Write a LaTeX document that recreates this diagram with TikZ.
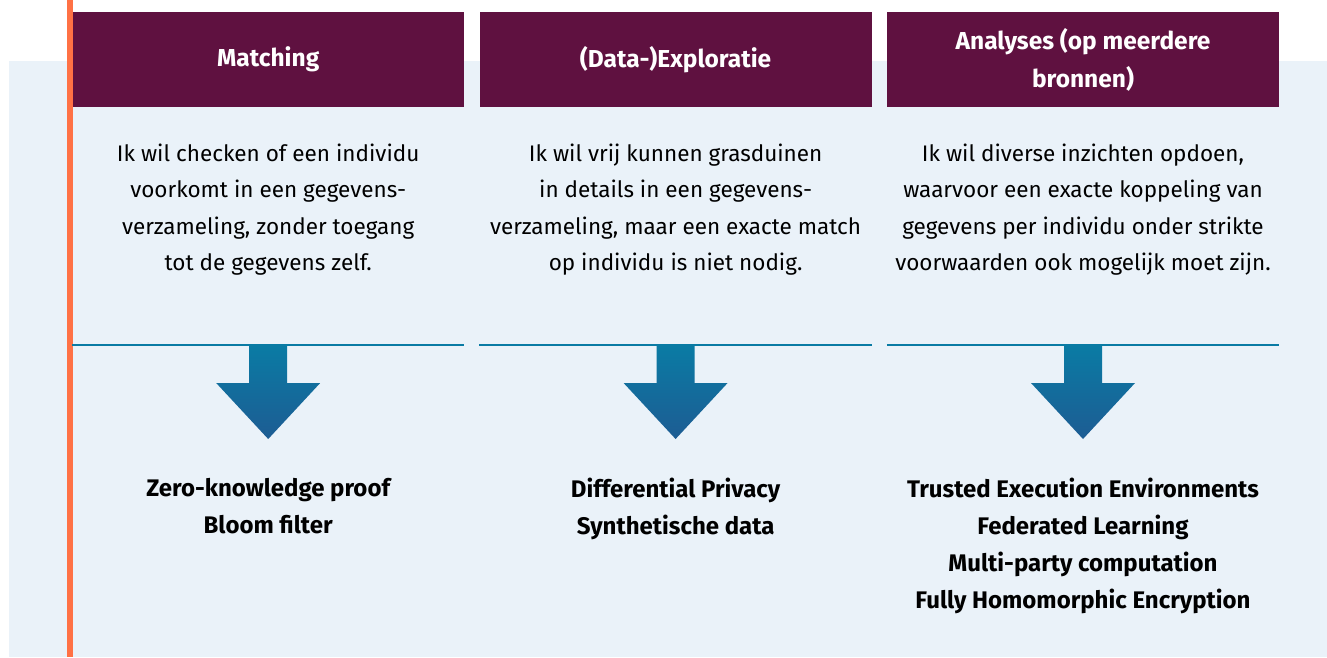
\documentclass[tikz,border=0pt]{standalone}
\usepackage{fontspec}
\setmainfont{Fira Sans}
\usetikzlibrary{positioning}
\definecolor{paleblue}{HTML}{EAF2F9}
\definecolor{plum}{HTML}{5F1140}
\definecolor{coral}{HTML}{FF7145}
\definecolor{seablue}{HTML}{0A7BA4}
\definecolor{deepblue}{HTML}{1D5C93}
\begin{document}
\begin{tikzpicture}[x=1pt, y=-1pt,
    header/.style={fill=plum, text=white, font=\bfseries\fontsize{24.5}{38}\selectfont,
        minimum width=392pt, minimum height=95pt, inner sep=0pt, align=center, anchor=north west},
    body/.style={font=\fontsize{22.5}{36.5}\selectfont, align=center, inner sep=0pt, anchor=north},
    result/.style={font=\bfseries\fontsize{24}{37}\selectfont, align=center, inner sep=0pt, anchor=north},
    sepline/.style={draw=seablue, line width=2pt},
    bigarrow/.style={top color=seablue, bottom color=deepblue, draw=none}]
    \useasboundingbox (0,0) rectangle (1327,657);
    % background
    \fill[paleblue] (9,61) rectangle (1327,657);
    % headers
    \node[header] (hmatch) at (72,12) {Matching};
    \node[header, right=15pt of hmatch] (hexpl) {(Data-)Exploratie};
    \node[header, right=15pt of hexpl] (hanal) {Analyses (op meerdere\\bronnen)};
    % side bar
    \draw[coral, line width=6pt] (70,0) -- (70,657);
    % questions
    \node[body, below=36pt of hmatch] (qmatch) {Ik wil checken of een individu\\voorkomt in een gegevens-\\verzameling, zonder toegang\\tot de gegevens zelf.};
    \node[body, below=36pt of hexpl] (qexpl) {Ik wil vrij kunnen grasduinen\\in details in een gegevens-\\verzameling, maar een exacte match\\op individu is niet nodig.};
    \node[body, below=36pt of hanal] (qanal) {Ik wil diverse inzichten opdoen,\\waarvoor een exacte koppeling van\\gegevens per individu onder strikte\\voorwaarden ook mogelijk moet zijn.};
    % separators and arrows
    \foreach \h in {hmatch, hexpl, hanal} {
        \draw[sepline] (\h.west |- 0,345) -- (\h.east |- 0,345);
        \coordinate (\h top) at (\h.south |- 0,346);
        \shade[bigarrow] ([xshift=-19pt]\h top) -- ++(38,0) -- ++(0,37) -- ++(33,0)
            -- ++(-52,56) -- ++(-52,-56) -- ++(33,0) -- cycle;
    }
    % techniques
    \node[result] (tmatch) at (hmatch.south |- 0,478) {Zero-knowledge proof\\Bloom filter};
    \node[result] (texpl) at (hexpl.south |- 0,478) {Differential Privacy\\Synthetische data};
    \node[result] (tanal) at (hanal.south |- 0,478) {Trusted Execution Environments\\Federated Learning\\Multi-party computation\\Fully Homomorphic Encryption};
\end{tikzpicture}
\end{document}
